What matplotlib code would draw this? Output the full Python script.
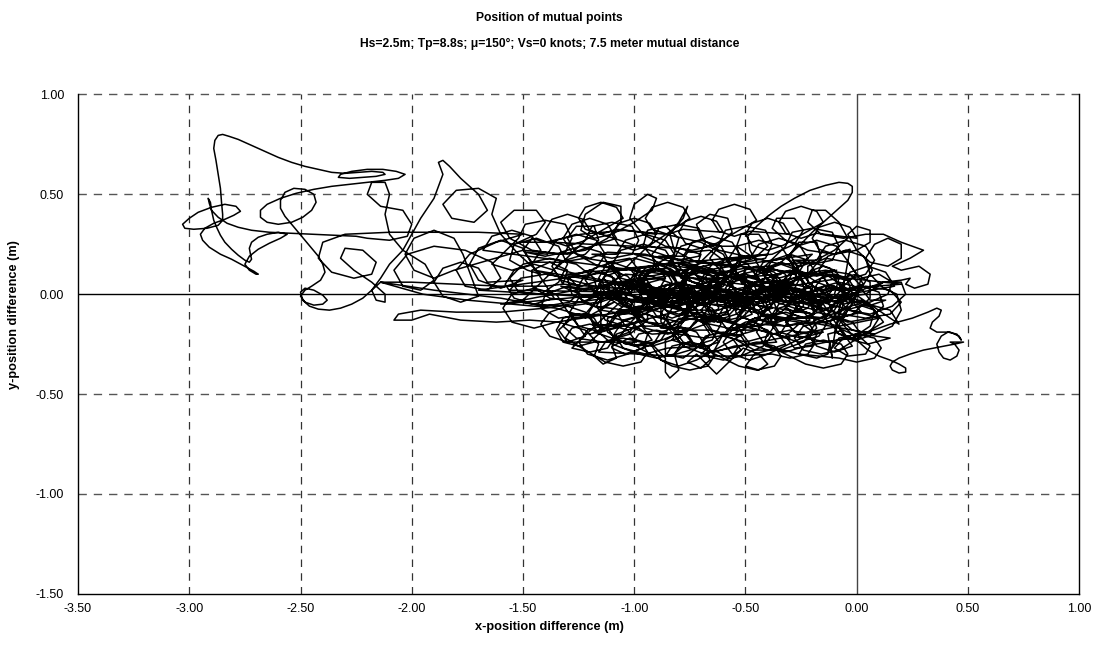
import matplotlib.pyplot as plt

plt.rcParams['font.family'] = ['Liberation Sans', 'DejaVu Sans']

# traced path of the x/y position difference (m)
core_part1 = [
    (-0.20, 0.02), (-0.28, 0.10), (-0.40, 0.13), (-0.52, 0.10), (-0.58, 0.02), (-0.54, -0.06),
    (-0.44, -0.08), (-0.36, -0.03), (-0.38, 0.05), (-0.48, 0.09), (-0.62, 0.08), (-0.74, 0.03),
    (-0.80, -0.05), (-0.76, -0.12), (-0.66, -0.14), (-0.58, -0.09), (-0.60, -0.01), (-0.70, 0.04),
    (-0.84, 0.05), (-0.96, 0.01), (-1.02, -0.06), (-0.98, -0.13), (-0.88, -0.16), (-0.78, -0.12),
    (-0.74, -0.04), (-0.80, 0.04), (-0.92, 0.09), (-1.04, 0.10), (-1.12, 0.05), (-1.10, -0.02),
    (-1.00, -0.04), (-0.90, 0.00), (-0.86, 0.08), (-0.90, 0.15), (-1.00, 0.18), (-1.10, 0.15),
    (-1.14, 0.08), (-1.08, 0.02), (-0.96, -0.02), (-0.82, -0.02), (-0.70, 0.02), (-0.62, 0.09),
    (-0.60, 0.17), (-0.66, 0.22), (-0.76, 0.21), (-0.80, 0.14), (-0.74, 0.06), (-0.62, 0.02),
    (-0.48, 0.00), (-0.36, 0.02), (-0.28, 0.07), (-0.26, 0.14), (-0.32, 0.18), (-0.42, 0.16),
    (-0.46, 0.09), (-0.40, 0.01), (-0.30, -0.05), (-0.18, -0.08), (-0.08, -0.06), (-0.02, 0.00),
    (-0.04, 0.07), (-0.12, 0.10), (-0.20, 0.06), (-0.20, -0.02), (-0.14, -0.10), (-0.04, -0.14),
    (0.06, -0.12), (0.12, -0.06), (0.10, 0.01), (0.02, 0.04), (-0.06, 0.00), (-0.10, -0.08),
    (-0.20, -0.14), (-0.32, -0.16), (-0.44, -0.15), (-0.54, -0.10), (-0.56, -0.03), (-0.50, 0.02),
    (-0.42, 0.00), (-0.40, -0.07), (-0.46, -0.15), (-0.56, -0.20), (-0.68, -0.22), (-0.80, -0.20),
    (-0.88, -0.14), (-0.88, -0.07), (-0.80, -0.04), (-0.72, -0.07), (-0.72, -0.14), (-0.80, -0.22),
    (-0.92, -0.26), (-1.04, -0.25), (-1.12, -0.19), (-1.12, -0.12), (-1.04, -0.09), (-0.96, -0.12),
    (-1.06, -0.04), (-1.18, 0.02), (-1.30, 0.04), (-1.40, 0.00), (-1.42, -0.07), (-1.34, -0.12),
    (-1.22, -0.10), (-1.16, -0.02), (-1.18, 0.08), (-1.26, 0.15), (-1.38, 0.18), (-1.50, 0.15),
    (-1.56, 0.08), (-1.52, 0.01), (-1.42, 0.00), (-1.34, 0.06), (-1.30, 0.15), (-1.34, 0.24),
    (-1.44, 0.28), (-1.54, 0.25), (-1.56, 0.17), (-1.48, 0.12), (-1.42, 0.10),
]

band_part = [
    (-1.42, 0.10), (-1.52, 0.20), (-1.60, 0.30), (-1.64, 0.40), (-1.62, 0.48), (-1.70, 0.53),
    (-1.80, 0.52), (-1.86, 0.45), (-1.82, 0.38), (-1.72, 0.36), (-1.66, 0.42), (-1.70, 0.50),
    (-1.78, 0.58), (-1.83, 0.64), (-1.86, 0.67), (-1.88, 0.66), (-1.86, 0.60), (-1.90, 0.48),
    (-1.96, 0.38), (-2.00, 0.30), (-2.04, 0.22), (-2.10, 0.15), (-2.14, 0.08), (-2.18, 0.02),
    (-2.16, -0.03), (-2.12, -0.04), (-2.12, 0.00), (-2.18, 0.06), (-2.26, 0.12), (-2.32, 0.18),
    (-2.30, 0.23), (-2.22, 0.22), (-2.16, 0.16), (-2.18, 0.10), (-2.26, 0.08), (-2.36, 0.11),
    (-2.42, 0.18), (-2.40, 0.26), (-2.30, 0.30), (-2.10, 0.31), (-1.90, 0.31), (-1.70, 0.31),
    (-1.50, 0.30), (-1.62, 0.26), (-1.74, 0.20), (-1.80, 0.12), (-1.76, 0.04), (-1.66, 0.02),
    (-1.60, 0.08), (-1.64, 0.16), (-1.76, 0.22), (-1.90, 0.24), (-2.02, 0.20), (-2.08, 0.12),
    (-2.04, 0.04), (-1.96, 0.02), (-1.90, 0.07), (-1.94, 0.15), (-2.04, 0.22), (-2.10, 0.30),
    (-2.12, 0.40), (-2.10, 0.50), (-2.12, 0.56), (-2.18, 0.56), (-2.20, 0.50), (-2.14, 0.44),
    (-2.04, 0.42), (-2.00, 0.35), (-2.02, 0.29), (-2.10, 0.27), (-2.20, 0.28),
]

left_part = [
    (-2.25, 0.29), (-2.35, 0.295), (-2.45, 0.30), (-2.55, 0.305), (-2.64, 0.31), (-2.72, 0.32),
    (-2.78, 0.335), (-2.83, 0.355), (-2.87, 0.385), (-2.90, 0.42), (-2.91, 0.455), (-2.915, 0.48),
    (-2.905, 0.46), (-2.90, 0.42), (-2.89, 0.37), (-2.875, 0.33), (-2.86, 0.295), (-2.84, 0.26),
    (-2.81, 0.225), (-2.78, 0.195), (-2.75, 0.17), (-2.73, 0.16), (-2.72, 0.175), (-2.725, 0.20),
    (-2.73, 0.23), (-2.72, 0.26), (-2.69, 0.285), (-2.65, 0.30), (-2.60, 0.31), (-2.56, 0.30),
    (-2.59, 0.28), (-2.64, 0.255), (-2.69, 0.225), (-2.73, 0.19), (-2.75, 0.15), (-2.73, 0.12),
    (-2.70, 0.10), (-2.69, 0.10), (-2.71, 0.115), (-2.76, 0.145), (-2.81, 0.175), (-2.86, 0.20),
    (-2.91, 0.235), (-2.94, 0.27), (-2.95, 0.30), (-2.93, 0.33), (-2.89, 0.355), (-2.84, 0.375),
    (-2.80, 0.395), (-2.77, 0.415), (-2.79, 0.44), (-2.84, 0.45), (-2.90, 0.435), (-2.96, 0.41),
    (-3.00, 0.38), (-3.03, 0.35), (-3.02, 0.33), (-2.98, 0.325), (-2.92, 0.33), (-2.87, 0.345),
    (-2.85, 0.37), (-2.85, 0.40), (-2.855, 0.46), (-2.86, 0.53), (-2.87, 0.60), (-2.88, 0.67),
    (-2.89, 0.73), (-2.885, 0.77), (-2.87, 0.795), (-2.85, 0.80), (-2.82, 0.79), (-2.78, 0.775),
    (-2.72, 0.745), (-2.66, 0.715), (-2.60, 0.685), (-2.54, 0.66), (-2.48, 0.64), (-2.42, 0.625),
    (-2.36, 0.61), (-2.30, 0.605), (-2.24, 0.61), (-2.18, 0.615), (-2.13, 0.61), (-2.12, 0.60),
    (-2.16, 0.59), (-2.22, 0.585), (-2.28, 0.58), (-2.33, 0.585), (-2.32, 0.60), (-2.27, 0.615),
    (-2.20, 0.625), (-2.13, 0.625), (-2.07, 0.615), (-2.03, 0.60), (-2.06, 0.58), (-2.12, 0.57),
    (-2.20, 0.56), (-2.28, 0.55), (-2.36, 0.54), (-2.44, 0.525), (-2.52, 0.505), (-2.59, 0.48),
    (-2.65, 0.45), (-2.68, 0.42), (-2.68, 0.385), (-2.65, 0.36), (-2.60, 0.35), (-2.54, 0.36),
    (-2.49, 0.385), (-2.45, 0.42), (-2.43, 0.46), (-2.44, 0.50), (-2.48, 0.525), (-2.53, 0.53),
    (-2.57, 0.51), (-2.59, 0.47), (-2.59, 0.43), (-2.57, 0.39), (-2.54, 0.35), (-2.51, 0.31),
    (-2.48, 0.27), (-2.45, 0.23), (-2.42, 0.19), (-2.40, 0.15), (-2.39, 0.11), (-2.41, 0.07),
    (-2.45, 0.04), (-2.48, 0.02), (-2.50, -0.01), (-2.48, -0.04), (-2.44, -0.055), (-2.40, -0.05),
    (-2.38, -0.03), (-2.40, -0.005), (-2.44, 0.02), (-2.48, 0.03), (-2.50, 0.01), (-2.49, -0.03),
    (-2.46, -0.06), (-2.42, -0.075), (-2.37, -0.08), (-2.32, -0.07), (-2.27, -0.05), (-2.22, -0.02),
    (-2.18, 0.02), (-2.14, 0.06), (-1.90, 0.02), (-1.60, -0.02),
]

core_part2 = [
    (-1.60, -0.02), (-1.45, -0.05), (-1.30, -0.06), (-1.16, -0.04), (-1.08, 0.02), (-1.10, 0.09),
    (-1.20, 0.12), (-1.30, 0.08), (-1.28, 0.00), (-1.18, -0.06), (-1.04, -0.08), (-0.90, -0.06),
    (-0.80, 0.00), (-0.78, 0.08), (-0.84, 0.13), (-0.94, 0.12), (-0.96, 0.04), (-0.88, -0.04),
    (-0.76, -0.08), (-0.62, -0.08), (-0.52, -0.03), (-0.50, 0.05), (-0.56, 0.11), (-0.66, 0.12),
    (-0.70, 0.05), (-0.64, -0.03), (-0.52, -0.06), (-0.40, -0.04), (-0.32, 0.02), (-0.32, 0.10),
    (-0.40, 0.14), (-0.50, 0.13), (-0.52, 0.06), (-0.44, 0.00), (-0.30, -0.02), (-0.16, 0.00),
    (-0.06, 0.04), (0.00, 0.10), (-0.04, 0.16), (-0.14, 0.18), (-0.22, 0.14), (-0.22, 0.06),
    (-0.14, 0.00), (-0.04, -0.04), (0.06, -0.04), (0.14, 0.00), (0.16, 0.06), (0.10, 0.10),
    (0.02, 0.08), (0.00, 0.00), (-0.06, -0.08), (-0.16, -0.12), (-0.28, -0.12), (-0.36, -0.08),
    (-0.38, -0.01), (-0.32, 0.04), (-0.24, 0.02), (-0.24, -0.06), (-0.32, -0.12), (-0.44, -0.16),
    (-0.58, -0.17), (-0.70, -0.14), (-0.76, -0.08), (-0.72, -0.01), (-0.64, 0.00), (-0.62, -0.07),
    (-0.68, -0.15), (-0.78, -0.19), (-0.92, -0.20), (-1.04, -0.16), (-1.08, -0.09), (-1.02, -0.03),
    (-0.94, -0.05), (-0.94, -0.13), (-1.02, -0.20), (-1.14, -0.24), (-1.26, -0.22), (-1.32, -0.16),
    (-1.28, -0.10), (-1.20, -0.10), (-1.18, -0.17), (-1.10, -0.25), (-0.98, -0.30), (-0.84, -0.31),
    (-0.72, -0.27), (-0.66, -0.20), (-0.70, -0.13), (-0.80, -0.12), (-0.84, -0.18), (-0.78, -0.26),
    (-0.66, -0.31), (-0.52, -0.31), (-0.42, -0.26), (-0.40, -0.19), (-0.46, -0.14), (-0.54, -0.16),
    (-0.54, -0.23), (-0.46, -0.28), (-0.34, -0.28), (-0.24, -0.24), (-0.18, -0.17), (-0.20, -0.10),
    (-0.28, -0.08), (-0.32, -0.14), (-0.26, -0.21), (-0.14, -0.24), (-0.02, -0.22), (0.06, -0.16),
    (0.08, -0.08), (0.02, -0.03), (-0.06, -0.05), (-0.08, -0.12), (-0.02, -0.18), (0.08, -0.20),
    (0.16, -0.16), (0.20, -0.08), (0.18, 0.00), (0.12, 0.03),
]

upper_part = [
    (0.12, 0.03), (0.06, 0.10), (0.04, 0.18), (0.08, 0.25), (0.14, 0.28), (0.20, 0.25),
    (0.20, 0.18), (0.14, 0.14), (0.06, 0.16), (0.00, 0.22), (-0.04, 0.30), (0.00, 0.34),
    (0.06, 0.32), (0.06, 0.26), (0.00, 0.22), (-0.10, 0.20), (-0.22, 0.22), (-0.32, 0.27),
    (-0.38, 0.33), (-0.36, 0.38), (-0.28, 0.38), (-0.24, 0.32), (-0.28, 0.25), (-0.38, 0.20),
    (-0.50, 0.19), (-0.62, 0.22), (-0.70, 0.28), (-0.72, 0.35), (-0.66, 0.40), (-0.58, 0.38),
    (-0.56, 0.31), (-0.62, 0.25), (-0.74, 0.22), (-0.86, 0.24), (-0.96, 0.30), (-1.02, 0.38),
    (-1.00, 0.45), (-0.94, 0.50), (-0.90, 0.48), (-0.92, 0.42), (-1.00, 0.36), (-1.10, 0.30),
    (-1.18, 0.28), (-1.24, 0.32), (-1.22, 0.40), (-1.14, 0.46), (-1.06, 0.44), (-1.06, 0.36),
    (-1.12, 0.28), (-1.22, 0.22), (-1.34, 0.20), (-1.46, 0.22), (-1.56, 0.28), (-1.60, 0.36),
    (-1.54, 0.42), (-1.44, 0.42), (-1.40, 0.36), (-1.44, 0.30), (-1.52, 0.26), (-1.36, 0.26),
    (-1.20, 0.25), (-1.00, 0.24), (-0.80, 0.23), (-0.70, 0.20), (-0.72, 0.14), (-0.80, 0.10),
    (-0.90, 0.12), (-0.92, 0.20), (-0.86, 0.28), (-0.80, 0.36), (-0.76, 0.44), (-0.78, 0.38),
    (-0.84, 0.30), (-0.82, 0.22), (-0.72, 0.16), (-0.58, 0.14), (-0.46, 0.18), (-0.40, 0.24),
    (-0.44, 0.30), (-0.52, 0.30), (-0.54, 0.24), (-0.46, 0.18), (-0.34, 0.15), (-0.20, 0.16),
    (-0.10, 0.22), (-0.04, 0.28), (-0.08, 0.36), (-0.14, 0.42), (-0.20, 0.42), (-0.22, 0.36),
    (-0.16, 0.30), (-0.06, 0.28), (0.04, 0.30), (0.12, 0.30), (0.20, 0.26), (0.30, 0.22),
    (0.24, 0.18), (0.16, 0.14), (0.20, 0.12), (0.28, 0.14), (0.33, 0.10), (0.32, 0.05),
    (0.26, 0.03), (0.22, 0.05), (0.24, 0.08), (0.20, 0.07), (0.12, 0.06),
]

core_part3 = [
    (0.12, 0.06), (0.02, 0.02), (-0.08, 0.02), (-0.18, 0.06), (-0.26, 0.12), (-0.30, 0.20),
    (-0.26, 0.26), (-0.18, 0.26), (-0.16, 0.18), (-0.22, 0.10), (-0.34, 0.06), (-0.48, 0.06),
    (-0.60, 0.10), (-0.66, 0.18), (-0.62, 0.24), (-0.54, 0.24), (-0.52, 0.16), (-0.58, 0.08),
    (-0.70, 0.00), (-0.84, -0.04), (-0.98, -0.04), (-1.10, 0.00), (-1.16, 0.08), (-1.12, 0.16),
    (-1.02, 0.18), (-0.98, 0.12), (-1.02, 0.04), (-1.12, -0.02), (-1.26, -0.04), (-1.38, -0.02),
    (-1.46, 0.04), (-1.46, 0.12), (-1.38, 0.16), (-1.30, 0.12), (-1.32, 0.05), (-1.40, 0.04),
    (-1.60, 0.04), (-1.80, 0.05), (-2.00, 0.06), (-2.14, 0.06), (-1.95, 0.00), (-1.75, -0.03),
    (-1.55, -0.05), (-1.35, -0.07), (-1.20, -0.12), (-1.14, -0.18), (-1.20, -0.24), (-1.30, -0.24),
    (-1.34, -0.18), (-1.28, -0.12), (-1.16, -0.10), (-1.02, -0.14), (-0.94, -0.20), (-0.96, -0.27),
    (-1.04, -0.30), (-1.10, -0.27), (-1.08, -0.20), (-0.98, -0.16), (-0.86, -0.16), (-0.76, -0.20),
    (-0.72, -0.27), (-0.78, -0.32), (-0.86, -0.30), (-0.86, -0.23), (-0.78, -0.18), (-0.66, -0.18),
    (-0.56, -0.22), (-0.52, -0.28), (-0.58, -0.32), (-0.64, -0.28), (-0.60, -0.20), (-0.50, -0.14),
    (-0.38, -0.12), (-0.26, -0.14), (-0.18, -0.20), (-0.20, -0.26), (-0.28, -0.27), (-0.32, -0.21),
    (-0.26, -0.15), (-0.14, -0.14), (-0.02, -0.10), (0.06, -0.02), (0.06, 0.06), (0.00, 0.10),
    (-0.08, 0.08), (-0.10, 0.00), (-0.04, -0.08), (0.06, -0.10), (0.16, -0.06), (0.22, 0.00),
    (0.20, 0.06), (0.12, 0.06), (0.04, 0.00), (-0.10, -0.02), (-0.24, 0.00), (-0.36, 0.06),
    (-0.44, 0.14), (-0.48, 0.22), (-0.49, 0.29), (-0.45, 0.34), (-0.40, 0.39), (-0.34, 0.44),
    (-0.28, 0.48), (-0.21, 0.52), (-0.14, 0.545), (-0.08, 0.56), (-0.04, 0.555), (-0.02, 0.54),
    (-0.02, 0.51), (-0.04, 0.47), (-0.08, 0.43), (-0.12, 0.39), (-0.16, 0.35), (-0.20, 0.31),
    (-0.26, 0.24), (-0.34, 0.16), (-0.44, 0.10), (-0.56, 0.06), (-0.68, 0.06),
    (-0.80, 0.10), (-0.90, 0.16), (-0.96, 0.24), (-0.94, 0.32), (-0.86, 0.34), (-0.80, 0.28),
    (-0.82, 0.20), (-0.92, 0.14), (-1.04, 0.12), (-1.16, 0.14), (-1.26, 0.20), (-1.30, 0.28),
    (-1.26, 0.34), (-1.18, 0.34), (-1.16, 0.27), (-1.22, 0.20), (-1.34, 0.16), (-1.46, 0.16),
    (-1.50, 0.22), (-1.46, 0.28), (-1.40, 0.26), (-1.24, 0.30), (-1.04, 0.32), (-0.86, 0.30),
    (-0.70, 0.26), (-0.60, 0.20), (-0.56, 0.12), (-0.60, 0.04), (-0.70, -0.02), (-0.82, -0.06),
    (-0.94, -0.08), (-1.06, -0.06), (-1.14, 0.00),
]

lower_part = [
    (-1.14, 0.00), (-1.24, -0.04), (-1.40, -0.07), (-1.60, -0.09), (-1.80, -0.09), (-1.96, -0.08),
    (-2.06, -0.10), (-2.08, -0.13), (-2.00, -0.13), (-1.92, -0.10), (-1.78, -0.13), (-1.62, -0.14),
    (-1.47, -0.13), (-1.34, -0.14), (-1.22, -0.18), (-1.16, -0.25), (-1.18, -0.31), (-1.14, -0.35),
    (-1.08, -0.32), (-1.10, -0.26), (-1.02, -0.22), (-0.92, -0.25), (-0.86, -0.32), (-0.86, -0.39),
    (-0.84, -0.42), (-0.80, -0.38), (-0.82, -0.30), (-0.76, -0.24), (-0.68, -0.26), (-0.66, -0.33),
    (-0.70, -0.37), (-0.76, -0.34), (-0.72, -0.30), (-0.63, -0.40), (-0.51, -0.27), (-0.44, -0.30),
    (-0.40, -0.35), (-0.44, -0.38), (-0.50, -0.36), (-0.46, -0.30), (-0.36, -0.27), (-0.26, -0.30),
    (-0.18, -0.32), (-0.13, -0.30), (-0.12, -0.24), (-0.11, -0.32), (-0.13, -0.20), (-0.06, -0.18),
    (0.02, -0.22), (0.06, -0.26), (0.04, -0.30), (-0.04, -0.31), (-0.10, -0.27), (-0.06, -0.22),
    (0.02, -0.19), (0.05, -0.19),
]

right_tail = [
    (0.05, -0.19), (0.15, -0.15), (0.25, -0.12), (0.32, -0.09), (0.36, -0.07), (0.38, -0.08),
    (0.37, -0.11), (0.34, -0.14), (0.33, -0.17), (0.36, -0.19), (0.42, -0.19), (0.46, -0.21),
    (0.47, -0.23), (0.45, -0.20), (0.41, -0.19), (0.38, -0.21), (0.36, -0.25), (0.37, -0.29),
    (0.39, -0.32), (0.42, -0.33), (0.45, -0.31), (0.46, -0.28), (0.44, -0.25), (0.42, -0.24),
    (0.45, -0.24), (0.48, -0.24), (0.44, -0.25), (0.37, -0.265), (0.30, -0.28), (0.24, -0.30),
    (0.19, -0.32), (0.16, -0.34), (0.15, -0.36), (0.16, -0.38), (0.19, -0.395), (0.22, -0.39),
    (0.22, -0.37), (0.19, -0.35), (0.15, -0.33), (0.10, -0.31), (0.05, -0.28), (0.01, -0.24),
    (-0.04, -0.18), (-0.10, -0.10), (-0.14, -0.02),
]

core_part4 = [
    (0.17, 0.04), (0.13, 0.11), (0.05, 0.14), (-0.03, 0.11), (-0.07, 0.04), (-0.03, -0.03),
    (0.05, -0.06), (0.13, -0.03), (0.06, -0.03), (0.02, 0.03), (-0.08, 0.06), (-0.18, 0.03),
    (-0.22, -0.03), (-0.18, -0.09), (-0.08, -0.12), (0.02, -0.09), (-0.09, 0.06), (-0.12, 0.13),
    (-0.20, 0.16), (-0.28, 0.13), (-0.31, 0.06), (-0.28, -0.01), (-0.20, -0.04), (-0.12, -0.01),
    (-0.17, -0.05), (-0.21, 0.03), (-0.32, 0.06), (-0.43, 0.03), (-0.47, -0.05), (-0.43, -0.13),
    (-0.32, -0.16), (-0.21, -0.13), (-0.33, 0.05), (-0.37, 0.11), (-0.45, 0.14), (-0.53, 0.11),
    (-0.57, 0.05), (-0.53, -0.01), (-0.45, -0.04), (-0.37, -0.01), (-0.43, -0.02), (-0.47, 0.06),
    (-0.56, 0.10), (-0.65, 0.06), (-0.69, -0.02), (-0.65, -0.10), (-0.56, -0.14), (-0.47, -0.10),
    (-0.58, 0.08), (-0.61, 0.14), (-0.68, 0.16), (-0.75, 0.14), (-0.78, 0.08), (-0.75, 0.02),
    (-0.68, 0.00), (-0.61, 0.02), (-0.66, -0.04), (-0.70, 0.03), (-0.80, 0.06), (-0.90, 0.03),
    (-0.94, -0.04), (-0.90, -0.11), (-0.80, -0.14), (-0.70, -0.11), (-0.80, 0.04), (-0.84, 0.10),
    (-0.92, 0.13), (-1.00, 0.10), (-1.04, 0.04), (-1.00, -0.02), (-0.92, -0.05), (-0.84, -0.02),
    (-0.91, -0.06), (-0.95, 0.01), (-1.04, 0.04), (-1.13, 0.01), (-1.17, -0.06), (-1.13, -0.13),
    (-1.04, -0.16), (-0.95, -0.13), (-1.06, 0.02), (-1.09, 0.08), (-1.16, 0.11), (-1.23, 0.08),
    (-1.26, 0.02), (-1.23, -0.04), (-1.16, -0.07), (-1.09, -0.04),
]

core_part5 = [
    (-1.22, -0.12), (-1.18, -0.05), (-1.10, -0.02), (-1.02, -0.05), (-0.98, -0.12), (-1.02, -0.19),
    (-1.10, -0.22), (-1.18, -0.19), (-1.12, -0.16), (-1.08, -0.09), (-0.98, -0.06), (-0.88, -0.09),
    (-0.84, -0.16), (-0.88, -0.23), (-0.98, -0.26), (-1.08, -0.23), (-0.97, -0.08), (-0.94, -0.02),
    (-0.86, 0.01), (-0.78, -0.02), (-0.75, -0.08), (-0.78, -0.14), (-0.86, -0.17), (-0.94, -0.14),
    (-0.87, -0.15), (-0.83, -0.07), (-0.74, -0.04), (-0.65, -0.07), (-0.61, -0.15), (-0.65, -0.23),
    (-0.74, -0.26), (-0.83, -0.23), (-0.74, -0.06), (-0.70, 0.00), (-0.62, 0.02), (-0.54, 0.00),
    (-0.50, -0.06), (-0.54, -0.12), (-0.62, -0.14), (-0.70, -0.12), (-0.64, -0.14), (-0.60, -0.07),
    (-0.50, -0.04), (-0.40, -0.07), (-0.36, -0.14), (-0.40, -0.21), (-0.50, -0.24), (-0.60, -0.21),
    (-0.49, -0.06), (-0.46, 0.00), (-0.38, 0.03), (-0.30, 0.00), (-0.27, -0.06), (-0.30, -0.12),
    (-0.38, -0.15), (-0.46, -0.12), (-0.39, -0.14), (-0.35, -0.07), (-0.26, -0.04), (-0.17, -0.07),
    (-0.13, -0.14), (-0.17, -0.21), (-0.26, -0.24), (-0.35, -0.21), (-0.26, -0.05), (-0.22, 0.01),
    (-0.14, 0.04), (-0.06, 0.01), (-0.02, -0.05), (-0.06, -0.11), (-0.14, -0.14), (-0.22, -0.11),
    (-0.14, -0.12), (-0.10, -0.05), (-0.02, -0.02), (0.06, -0.05), (0.10, -0.12), (0.06, -0.19),
    (-0.02, -0.22), (-0.10, -0.19),
]

core_part6 = [
    (0.07, 0.12), (0.03, 0.19), (-0.05, 0.22), (-0.13, 0.19), (-0.17, 0.12), (-0.13, 0.05),
    (-0.05, 0.02), (0.03, 0.05), (-0.05, 0.18), (-0.09, 0.24), (-0.18, 0.27), (-0.27, 0.24),
    (-0.31, 0.18), (-0.27, 0.12), (-0.18, 0.09), (-0.09, 0.12), (-0.18, 0.10), (-0.22, 0.17),
    (-0.30, 0.20), (-0.38, 0.17), (-0.42, 0.10), (-0.38, 0.03), (-0.30, 0.00), (-0.22, 0.03),
    (-0.30, 0.17), (-0.34, 0.24), (-0.44, 0.27), (-0.54, 0.24), (-0.58, 0.17), (-0.54, 0.10),
    (-0.44, 0.07), (-0.34, 0.10), (-0.45, 0.09), (-0.49, 0.15), (-0.57, 0.18), (-0.65, 0.15),
    (-0.69, 0.09), (-0.65, 0.03), (-0.57, 0.00), (-0.49, 0.03), (-0.57, 0.16), (-0.61, 0.24),
    (-0.70, 0.27), (-0.79, 0.24), (-0.83, 0.16), (-0.79, 0.08), (-0.70, 0.05), (-0.61, 0.08),
    (-0.71, 0.08), (-0.75, 0.14), (-0.83, 0.16), (-0.91, 0.14), (-0.95, 0.08), (-0.91, 0.02),
    (-0.83, 0.00), (-0.75, 0.02), (-0.82, 0.15), (-0.86, 0.22), (-0.96, 0.25), (-1.06, 0.22),
    (-1.10, 0.15), (-1.06, 0.08), (-0.96, 0.05), (-0.86, 0.08), (-0.98, 0.07), (-1.02, 0.13),
    (-1.10, 0.16), (-1.18, 0.13), (-1.22, 0.07), (-1.18, 0.01), (-1.10, -0.02), (-1.02, 0.01),
    (-1.11, 0.14), (-1.15, 0.21), (-1.24, 0.24), (-1.33, 0.21), (-1.37, 0.14), (-1.33, 0.07),
    (-1.24, 0.04), (-1.15, 0.07),
]

core_part7 = [
    (-1.15, -0.18), (-1.18, -0.12), (-1.25, -0.10), (-1.32, -0.12), (-1.35, -0.18), (-1.32, -0.24),
    (-1.25, -0.26), (-1.18, -0.24), (-0.99, -0.24), (-1.03, -0.18), (-1.12, -0.15), (-1.21, -0.18),
    (-1.25, -0.24), (-1.21, -0.30), (-1.12, -0.33), (-1.03, -0.30), (-0.81, -0.20), (-0.85, -0.13),
    (-0.95, -0.10), (-1.05, -0.13), (-1.09, -0.20), (-1.05, -0.27), (-0.95, -0.30), (-0.85, -0.27),
    (-0.68, -0.26), (-0.72, -0.19), (-0.80, -0.16), (-0.88, -0.19), (-0.92, -0.26), (-0.88, -0.33),
    (-0.80, -0.36), (-0.72, -0.33), (-0.51, -0.20), (-0.55, -0.14), (-0.64, -0.11), (-0.73, -0.14),
    (-0.77, -0.20), (-0.73, -0.26), (-0.64, -0.29), (-0.55, -0.26), (-0.36, -0.24), (-0.40, -0.18),
    (-0.48, -0.15), (-0.56, -0.18), (-0.60, -0.24), (-0.56, -0.30), (-0.48, -0.33), (-0.40, -0.30),
    (-0.19, -0.19), (-0.23, -0.12), (-0.32, -0.09), (-0.41, -0.12), (-0.45, -0.19), (-0.41, -0.26),
    (-0.32, -0.29), (-0.23, -0.26), (-0.04, -0.22), (-0.08, -0.16), (-0.16, -0.14), (-0.24, -0.16),
    (-0.28, -0.22), (-0.24, -0.28), (-0.16, -0.30), (-0.08, -0.28), (0.12, -0.14), (0.08, -0.08),
    (0.00, -0.05), (-0.08, -0.08), (-0.12, -0.14), (-0.08, -0.20), (0.00, -0.23), (0.08, -0.20),
]

core_part8 = [
    (-0.91, 0.00), (-0.94, 0.05), (-1.00, 0.07), (-1.06, 0.05), (-1.09, 0.00), (-1.06, -0.05),
    (-1.00, -0.07), (-0.94, -0.05), (-0.81, 0.06), (-0.84, 0.11), (-0.90, 0.13), (-0.96, 0.11),
    (-0.99, 0.06), (-0.96, 0.01), (-0.90, -0.01), (-0.84, 0.01), (-0.71, -0.03), (-0.74, 0.02),
    (-0.80, 0.04), (-0.86, 0.02), (-0.89, -0.03), (-0.86, -0.08), (-0.80, -0.10), (-0.74, -0.08),
    (-0.61, 0.04), (-0.64, 0.09), (-0.70, 0.11), (-0.76, 0.09), (-0.79, 0.04), (-0.76, -0.01),
    (-0.70, -0.03), (-0.64, -0.01), (-0.51, -0.05), (-0.54, 0.00), (-0.60, 0.02), (-0.66, 0.00),
    (-0.69, -0.05), (-0.66, -0.10), (-0.60, -0.12), (-0.54, -0.10), (-0.41, 0.03), (-0.44, 0.08),
    (-0.50, 0.10), (-0.56, 0.08), (-0.59, 0.03), (-0.56, -0.02), (-0.50, -0.04), (-0.44, -0.02),
    (-0.31, -0.04), (-0.34, 0.01), (-0.40, 0.03), (-0.46, 0.01), (-0.49, -0.04), (-0.46, -0.09),
    (-0.40, -0.11), (-0.34, -0.09), (-0.21, 0.05), (-0.24, 0.10), (-0.30, 0.12), (-0.36, 0.10),
    (-0.39, 0.05), (-0.36, 0.00), (-0.30, -0.02), (-0.24, 0.00), (-0.11, -0.03), (-0.14, 0.02),
    (-0.20, 0.04), (-0.26, 0.02), (-0.29, -0.03), (-0.26, -0.08), (-0.20, -0.10), (-0.14, -0.08),
    (-0.01, 0.03), (-0.04, 0.08), (-0.10, 0.10), (-0.16, 0.08), (-0.19, 0.03), (-0.16, -0.02),
    (-0.10, -0.04), (-0.04, -0.02),
]

core_part9 = [
    (-1.68, 0.22), (-1.64, 0.29), (-1.55, 0.32), (-1.46, 0.29), (-1.42, 0.22), (-1.46, 0.15),
    (-1.55, 0.12), (-1.64, 0.15), (-1.52, 0.28), (-1.49, 0.35), (-1.40, 0.37), (-1.31, 0.35),
    (-1.28, 0.28), (-1.31, 0.21), (-1.40, 0.19), (-1.49, 0.21), (-1.39, 0.20), (-1.35, 0.27),
    (-1.26, 0.30), (-1.17, 0.27), (-1.13, 0.20), (-1.17, 0.13), (-1.26, 0.10), (-1.35, 0.13),
    (-1.22, 0.27), (-1.19, 0.34), (-1.10, 0.36), (-1.01, 0.34), (-0.98, 0.27), (-1.01, 0.20),
    (-1.10, 0.18), (-1.19, 0.20), (-1.08, 0.20), (-1.04, 0.27), (-0.95, 0.30), (-0.86, 0.27),
    (-0.82, 0.20), (-0.86, 0.13), (-0.95, 0.10), (-1.04, 0.13), (-0.92, 0.26), (-0.89, 0.33),
    (-0.80, 0.35), (-0.71, 0.33), (-0.68, 0.26), (-0.71, 0.19), (-0.80, 0.17), (-0.89, 0.19),
    (-0.78, 0.19), (-0.74, 0.26), (-0.65, 0.29), (-0.56, 0.26), (-0.52, 0.19), (-0.56, 0.12),
    (-0.65, 0.09), (-0.74, 0.12), (-0.62, 0.25), (-0.59, 0.32), (-0.50, 0.34), (-0.41, 0.32),
    (-0.38, 0.25), (-0.41, 0.18), (-0.50, 0.16), (-0.59, 0.18), (-0.48, 0.18), (-0.44, 0.25),
    (-0.35, 0.28), (-0.26, 0.25), (-0.22, 0.18), (-0.26, 0.11), (-0.35, 0.08), (-0.44, 0.11),
    (-0.32, 0.24), (-0.29, 0.31), (-0.20, 0.33), (-0.11, 0.31), (-0.08, 0.24), (-0.11, 0.17),
    (-0.20, 0.15), (-0.29, 0.17), (-0.18, 0.17), (-0.14, 0.24), (-0.05, 0.27), (0.04, 0.24),
    (0.08, 0.17), (0.04, 0.10), (-0.05, 0.07), (-0.14, 0.10),
]

core_part10 = [
    (0.19, -0.15), (0.15, -0.08), (0.05, -0.05), (-0.05, -0.08), (-0.09, -0.15), (-0.05, -0.22),
    (0.05, -0.25), (0.15, -0.22), (0.02, -0.20), (-0.02, -0.14), (-0.10, -0.11), (-0.18, -0.14),
    (-0.22, -0.20), (-0.18, -0.26), (-0.10, -0.29), (-0.02, -0.26), (-0.11, -0.12), (-0.15, -0.05),
    (-0.25, -0.02), (-0.35, -0.05), (-0.39, -0.12), (-0.35, -0.19), (-0.25, -0.22), (-0.15, -0.19),
    (-0.28, -0.19), (-0.32, -0.13), (-0.40, -0.10), (-0.48, -0.13), (-0.52, -0.19), (-0.48, -0.25),
    (-0.40, -0.28), (-0.32, -0.25), (-0.41, -0.11), (-0.45, -0.04), (-0.55, -0.01), (-0.65, -0.04),
    (-0.69, -0.11), (-0.65, -0.18), (-0.55, -0.21), (-0.45, -0.18), (-0.58, -0.18), (-0.62, -0.12),
    (-0.70, -0.09), (-0.78, -0.12), (-0.82, -0.18), (-0.78, -0.24), (-0.70, -0.27), (-0.62, -0.24),
    (-0.71, -0.10), (-0.75, -0.03), (-0.85, 0.00), (-0.95, -0.03), (-0.99, -0.10), (-0.95, -0.17),
    (-0.85, -0.20), (-0.75, -0.17), (-0.88, -0.17), (-0.92, -0.11), (-1.00, -0.08), (-1.08, -0.11),
    (-1.12, -0.17), (-1.08, -0.23), (-1.00, -0.26), (-0.92, -0.23), (-1.01, -0.09), (-1.05, -0.02),
    (-1.15, 0.01), (-1.25, -0.02), (-1.29, -0.09), (-1.25, -0.16), (-1.15, -0.19), (-1.05, -0.16),
    (-1.18, -0.15), (-1.22, -0.09), (-1.30, -0.06), (-1.38, -0.09), (-1.42, -0.15), (-1.38, -0.21),
    (-1.30, -0.24), (-1.22, -0.21), (-1.31, -0.07), (-1.35, 0.00), (-1.45, 0.03), (-1.55, 0.00),
    (-1.59, -0.07), (-1.55, -0.14), (-1.45, -0.17), (-1.35, -0.14),
]

core_part11 = [
    (-0.07, 0.08), (-0.10, 0.12), (-0.15, 0.14), (-0.20, 0.12), (-0.23, 0.08), (-0.20, 0.04),
    (-0.15, 0.02), (-0.10, 0.04), (-0.16, -0.06), (-0.19, -0.02), (-0.24, 0.00), (-0.29, -0.02),
    (-0.32, -0.06), (-0.29, -0.10), (-0.24, -0.12), (-0.19, -0.10), (-0.26, 0.10), (-0.29, 0.14),
    (-0.34, 0.16), (-0.39, 0.14), (-0.42, 0.10), (-0.39, 0.06), (-0.34, 0.04), (-0.29, 0.06),
    (-0.35, -0.03), (-0.38, 0.01), (-0.43, 0.03), (-0.48, 0.01), (-0.51, -0.03), (-0.48, -0.07),
    (-0.43, -0.09), (-0.38, -0.07), (-0.44, 0.08), (-0.47, 0.12), (-0.52, 0.14), (-0.57, 0.12),
    (-0.60, 0.08), (-0.57, 0.04), (-0.52, 0.02), (-0.47, 0.04), (-0.54, -0.08), (-0.57, -0.04),
    (-0.62, -0.02), (-0.67, -0.04), (-0.70, -0.08), (-0.67, -0.12), (-0.62, -0.14), (-0.57, -0.12),
    (-0.63, 0.06), (-0.66, 0.10), (-0.71, 0.12), (-0.76, 0.10), (-0.79, 0.06), (-0.76, 0.02),
    (-0.71, 0.00), (-0.66, 0.02), (-0.72, -0.05), (-0.75, -0.01), (-0.80, 0.01), (-0.85, -0.01),
    (-0.88, -0.05), (-0.85, -0.09), (-0.80, -0.11), (-0.75, -0.09), (-0.82, 0.09), (-0.85, 0.13),
    (-0.90, 0.15), (-0.95, 0.13), (-0.98, 0.09), (-0.95, 0.05), (-0.90, 0.03), (-0.85, 0.05),
    (-0.91, -0.02), (-0.94, 0.02), (-0.99, 0.04), (-1.04, 0.02), (-1.07, -0.02), (-1.04, -0.06),
    (-0.99, -0.08), (-0.94, -0.06), (-1.00, 0.05), (-1.03, 0.09), (-1.08, 0.11), (-1.13, 0.09),
    (-1.16, 0.05), (-1.13, 0.01), (-1.08, -0.01), (-1.03, 0.01),
]

core_part12 = [
    (-1.56, 0.02), (-1.51, 0.08), (-1.40, 0.10), (-1.29, 0.08), (-1.24, 0.02), (-1.29, -0.04),
    (-1.40, -0.06), (-1.51, -0.04), (-1.38, 0.10), (-1.33, 0.16), (-1.22, 0.18), (-1.11, 0.16),
    (-1.06, 0.10), (-1.11, 0.04), (-1.22, 0.02), (-1.33, 0.04), (-1.20, -0.02), (-1.15, 0.04),
    (-1.04, 0.06), (-0.93, 0.04), (-0.88, -0.02), (-0.93, -0.08), (-1.04, -0.10), (-1.15, -0.08),
    (-1.02, 0.07), (-0.97, 0.13), (-0.86, 0.15), (-0.75, 0.13), (-0.70, 0.07), (-0.75, 0.01),
    (-0.86, -0.01), (-0.97, 0.01), (-0.84, -0.04), (-0.79, 0.02), (-0.68, 0.04), (-0.57, 0.02),
    (-0.52, -0.04), (-0.57, -0.10), (-0.68, -0.12), (-0.79, -0.10), (-0.66, 0.05), (-0.61, 0.11),
    (-0.50, 0.13), (-0.39, 0.11), (-0.34, 0.05), (-0.39, -0.01), (-0.50, -0.03), (-0.61, -0.01),
    (-0.48, -0.05), (-0.43, 0.01), (-0.32, 0.03), (-0.21, 0.01), (-0.16, -0.05), (-0.21, -0.11),
    (-0.32, -0.13), (-0.43, -0.11), (-0.30, 0.04), (-0.25, 0.10), (-0.14, 0.12), (-0.03, 0.10),
    (0.02, 0.04), (-0.03, -0.02), (-0.14, -0.04), (-0.25, -0.02), (-0.12, -0.04), (-0.07, 0.02),
    (0.04, 0.04), (0.15, 0.02), (0.20, -0.04), (0.15, -0.10), (0.04, -0.12), (-0.07, -0.10),
]

core_part13 = [
    (-1.20, 0.32), (-1.23, 0.375), (-1.30, 0.40), (-1.37, 0.375), (-1.40, 0.32), (-1.37, 0.265),
    (-1.30, 0.24), (-1.23, 0.265), (-1.05, 0.38), (-1.08, 0.435), (-1.15, 0.46), (-1.22, 0.435),
    (-1.25, 0.38), (-1.22, 0.325), (-1.15, 0.30), (-1.08, 0.325), (-0.90, 0.30), (-0.93, 0.355),
    (-1.00, 0.38), (-1.07, 0.355), (-1.10, 0.30), (-1.07, 0.245), (-1.00, 0.22), (-0.93, 0.245),
    (-0.75, 0.38), (-0.78, 0.435), (-0.85, 0.46), (-0.92, 0.435), (-0.95, 0.38), (-0.92, 0.325),
    (-0.85, 0.30), (-0.78, 0.325), (-0.60, 0.31), (-0.63, 0.365), (-0.70, 0.39), (-0.77, 0.365),
    (-0.80, 0.31), (-0.77, 0.255), (-0.70, 0.23), (-0.63, 0.255), (-0.45, 0.37), (-0.48, 0.425),
    (-0.55, 0.45), (-0.62, 0.425), (-0.65, 0.37), (-0.62, 0.315), (-0.55, 0.29), (-0.48, 0.315),
    (-0.30, 0.30), (-0.33, 0.355), (-0.40, 0.38), (-0.47, 0.355), (-0.50, 0.30), (-0.47, 0.245),
    (-0.40, 0.22), (-0.33, 0.245), (-0.15, 0.36), (-0.18, 0.415), (-0.25, 0.44), (-0.32, 0.415),
    (-0.35, 0.36), (-0.32, 0.305), (-0.25, 0.28), (-0.18, 0.305), (0.00, 0.28), (-0.03, 0.335),
    (-0.10, 0.36), (-0.17, 0.335), (-0.20, 0.28), (-0.17, 0.225), (-0.10, 0.20), (-0.03, 0.225),
]

core_part14 = [
    (-0.11, -0.27), (-0.08, -0.22), (0.00, -0.20), (0.08, -0.22), (0.11, -0.27), (0.08, -0.32),
    (0.00, -0.34), (-0.08, -0.32), (-0.26, -0.30), (-0.23, -0.25), (-0.15, -0.23), (-0.07, -0.25),
    (-0.04, -0.30), (-0.07, -0.35), (-0.15, -0.37), (-0.23, -0.35), (-0.41, -0.25), (-0.38, -0.20),
    (-0.30, -0.18), (-0.22, -0.20), (-0.19, -0.25), (-0.22, -0.30), (-0.30, -0.32), (-0.38, -0.30),
    (-0.56, -0.31), (-0.53, -0.26), (-0.45, -0.24), (-0.37, -0.26), (-0.34, -0.31), (-0.37, -0.36),
    (-0.45, -0.38), (-0.53, -0.36), (-0.71, -0.26), (-0.68, -0.21), (-0.60, -0.19), (-0.52, -0.21),
    (-0.49, -0.26), (-0.52, -0.31), (-0.60, -0.33), (-0.68, -0.31), (-0.86, -0.31), (-0.83, -0.26),
    (-0.75, -0.24), (-0.67, -0.26), (-0.64, -0.31), (-0.67, -0.36), (-0.75, -0.38), (-0.83, -0.36),
    (-1.01, -0.25), (-0.98, -0.20), (-0.90, -0.18), (-0.82, -0.20), (-0.79, -0.25), (-0.82, -0.30),
    (-0.90, -0.32), (-0.98, -0.30), (-1.16, -0.29), (-1.13, -0.24), (-1.05, -0.22), (-0.97, -0.24),
    (-0.94, -0.29), (-0.97, -0.34), (-1.05, -0.36), (-1.13, -0.34), (-1.31, -0.22), (-1.28, -0.17),
    (-1.20, -0.15), (-1.12, -0.17), (-1.09, -0.22), (-1.12, -0.27), (-1.20, -0.29), (-1.28, -0.27),
]

core_part15 = [
    (-0.97, 0.06), (-0.95, 0.10), (-0.90, 0.12), (-0.85, 0.10), (-0.83, 0.06), (-0.85, 0.02),
    (-0.90, 0.00), (-0.95, 0.02), (-0.90, -0.06), (-0.88, -0.02), (-0.83, 0.00), (-0.78, -0.02),
    (-0.76, -0.06), (-0.78, -0.10), (-0.83, -0.12), (-0.88, -0.10), (-0.83, 0.01), (-0.81, 0.05),
    (-0.76, 0.07), (-0.71, 0.05), (-0.69, 0.01), (-0.71, -0.03), (-0.76, -0.05), (-0.81, -0.03),
    (-0.76, 0.08), (-0.74, 0.12), (-0.69, 0.14), (-0.64, 0.12), (-0.62, 0.08), (-0.64, 0.04),
    (-0.69, 0.02), (-0.74, 0.04), (-0.69, -0.04), (-0.67, 0.00), (-0.62, 0.02), (-0.57, 0.00),
    (-0.55, -0.04), (-0.57, -0.08), (-0.62, -0.10), (-0.67, -0.08), (-0.62, 0.04), (-0.60, 0.08),
    (-0.55, 0.10), (-0.50, 0.08), (-0.48, 0.04), (-0.50, 0.00), (-0.55, -0.02), (-0.60, 0.00),
    (-0.55, -0.07), (-0.53, -0.03), (-0.48, -0.01), (-0.43, -0.03), (-0.41, -0.07), (-0.43, -0.11),
    (-0.48, -0.13), (-0.53, -0.11), (-0.48, 0.02), (-0.46, 0.06), (-0.41, 0.08), (-0.36, 0.06),
    (-0.34, 0.02), (-0.36, -0.02), (-0.41, -0.04), (-0.46, -0.02), (-0.41, 0.09), (-0.39, 0.13),
    (-0.34, 0.15), (-0.29, 0.13), (-0.27, 0.09), (-0.29, 0.05), (-0.34, 0.03), (-0.39, 0.05),
    (-0.34, -0.03), (-0.32, 0.01), (-0.27, 0.03), (-0.22, 0.01), (-0.20, -0.03), (-0.22, -0.07),
    (-0.27, -0.09), (-0.32, -0.07), (-0.27, 0.05), (-0.25, 0.09), (-0.20, 0.11), (-0.15, 0.09),
    (-0.13, 0.05), (-0.15, 0.01), (-0.20, -0.01), (-0.25, 0.01),
]

fast_strokes = [
    (0.20, 0.05), (-1.00, 0.20), (-0.20, -0.10), (-1.30, 0.10), (-0.40, 0.20), (-1.60, -0.05),
    (-0.60, 0.05), (-1.20, -0.20), (-0.10, 0.12), (-0.90, -0.05), (-0.30, -0.22), (-1.45, 0.12),
    (-0.50, -0.06), (-1.70, 0.02), (-0.80, 0.16), (0.10, -0.12), (-0.70, -0.30), (-0.20, 0.20),
    (-1.10, 0.05), (-0.15, -0.05),
]

mid_loops = [
    (-1.32, 0.05), (-1.36, 0.12), (-1.45, 0.15), (-1.54, 0.12), (-1.58, 0.05), (-1.54, -0.02),
    (-1.45, -0.05), (-1.36, -0.02), (-1.46, 0.15), (-1.50, 0.23), (-1.60, 0.27), (-1.70, 0.23),
    (-1.74, 0.15), (-1.70, 0.07), (-1.60, 0.03), (-1.50, 0.07), (-1.66, 0.06), (-1.70, 0.13),
    (-1.78, 0.16), (-1.86, 0.13), (-1.90, 0.06), (-1.86, -0.01), (-1.78, -0.04), (-1.70, -0.01),
    (-1.77, 0.20), (-1.81, 0.28), (-1.90, 0.32), (-1.99, 0.28), (-2.03, 0.20), (-1.99, 0.12),
    (-1.90, 0.08), (-1.81, 0.12), (-1.50, 0.22), (-1.30, 0.20), (-1.08, 0.28), (-1.12, 0.35),
    (-1.20, 0.38), (-1.28, 0.35), (-1.32, 0.28), (-1.28, 0.21), (-1.20, 0.18), (-1.12, 0.21),
    (-0.95, 0.20), (-0.70, 0.12), (-0.45, 0.05),
]

x_ticks = [-3.5, -3.0, -2.5, -2.0, -1.5, -1.0, -0.5, 0.0, 0.5, 1.0]
y_ticks = [-1.5, -1.0, -0.5, 0.0, 0.5, 1.0]

track = (core_part1 + band_part + left_part + core_part2 + upper_part + core_part3
         + lower_part + right_tail + core_part4 + core_part5 + core_part6 + core_part7
         + core_part8 + core_part9 + core_part10 + core_part11 + core_part12
         + core_part13 + core_part14 + core_part15 + fast_strokes + mid_loops)
xs = [p[0] for p in track]
ys = [p[1] for p in track]

fig = plt.figure(figsize=(10.99, 6.52), dpi=100)
ax = fig.add_axes([0.071, 0.0894, 0.911, 0.7657])
ax.set_xlim(-3.5, 1.0)
ax.set_ylim(-1.5, 1.0)

# dashed grid, solid lines through the origin
for xv in x_ticks[1:-1]:
    if xv == 0.0:
        ax.axvline(xv, color='#444444', lw=1.0, zorder=1)
    else:
        ax.axvline(xv, color='#333333', lw=0.9, ls=(0, (6, 5)), zorder=1)
for yv in y_ticks[1:]:
    if yv == 0.0:
        ax.axhline(yv, color='black', lw=1.0, zorder=1)
    else:
        ax.axhline(yv, color='#555555', lw=1.0, ls=(0, (6, 5)), zorder=1, clip_on=False)

ax.plot(xs, ys, color='black', lw=1.1, zorder=3)

ax.spines['top'].set_visible(False)
for s in ['left', 'right', 'bottom']:
    ax.spines[s].set_linewidth(1.0)

ax.set_xticks(x_ticks)
ax.set_yticks(y_ticks)
ax.set_xticklabels([f'{v:.2f}' for v in x_ticks])
ax.set_yticklabels([f'{v:.2f}' for v in y_ticks])
ax.tick_params(length=0, labelsize=9, pad=7)
ax.tick_params(axis='y', pad=10)

ax.set_xlabel('x-position difference (m)', fontsize=9.2, fontweight='bold')
ax.set_ylabel('y-position difference (m)', fontsize=9.2, fontweight='bold')
ax.xaxis.set_label_coords(0.4705, -0.055)
ax.yaxis.set_label_coords(-0.058, 0.56)

fig.text(0.5, 0.972, 'Position of mutual points', ha='center', va='center',
         fontsize=8.7, fontweight='bold')
fig.text(0.5, 0.932, 'Hs=2.5m; Tp=8.8s; \u03bc=150\u00b0; Vs=0 knots; 7.5 meter mutual distance',
         ha='center', va='center', fontsize=8.7, fontweight='bold')

fig.savefig('out.png', dpi=100)
